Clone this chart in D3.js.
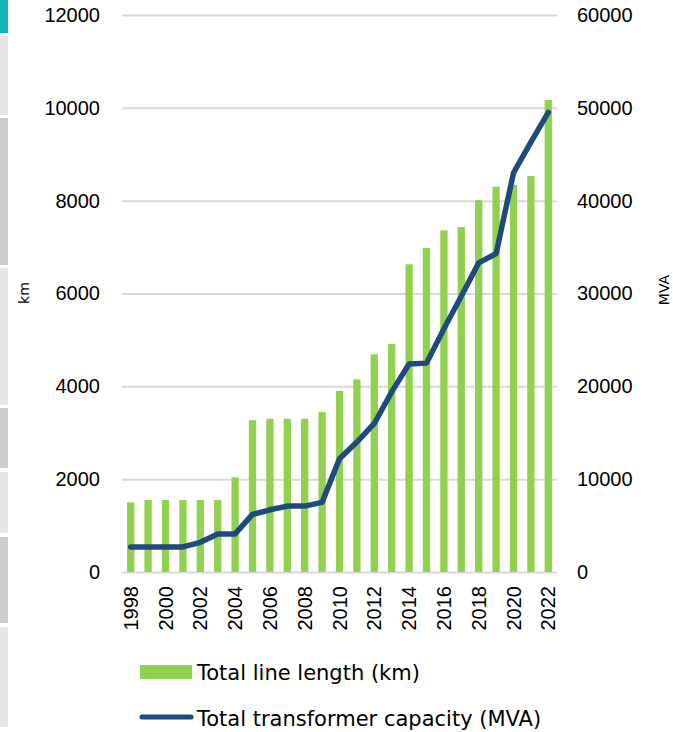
<!DOCTYPE html>
<html>
<head>
<meta charset="utf-8">
<script src="https://cdn.jsdelivr.net/npm/d3@7"></script>
<style>
  html, body { margin: 0; padding: 0; background: #fff; }
  svg { display: block; }
</style>
</head>
<body>
<script>
// Data
var years = ["1998", "1999", "2000", "2001", "2002", "2003", "2004", "2005", "2006",
  "2007", "2008", "2009", "2010", "2011", "2012", "2013", "2014", "2015", "2016",
  "2017", "2018", "2019", "2020", "2021", "2022"];
var lineLength = [1500, 1550, 1550, 1550, 1550, 1550, 2040, 3270, 3300, 3300, 3300, 3450,
  3900, 4150, 4690, 4910, 6630, 6980, 7360, 7430, 8010, 8300, 8340, 8530, 10170];
var capacity = [2700, 2700, 2700, 2700, 3200, 4100, 4100, 6200, 6700, 7100, 7100, 7500,
  12200, 14000, 16000, 19400, 22400, 22500, 26200, 29700, 33300, 34300, 43000, 46300, 49500];
var leftTicks = [0, 2000, 4000, 6000, 8000, 10000, 12000];
var rightTicks = [0, 10000, 20000, 30000, 40000, 50000, 60000];
var yearTicks = ["1998", "2000", "2002", "2004", "2006", "2008", "2010", "2012", "2014",
  "2016", "2018", "2020", "2022"];
var legendLabels = ["Total line length (km)", "Total transformer capacity (MVA)"];

/*
 * Bounds of component.
 */
var width = 673,
    height = 732,
    plotLeft = 122, plotRight = 557,
    plotTop = 15, plotBottom = 572;

var green = "#92d050",
    blue = "#1f4a7c",
    grid = "#d9d9d9",
    numFont = "'Liberation Sans', Arial, sans-serif",
    textFont = "'DejaVu Sans', Verdana, sans-serif";

var svg = d3.select("body").append("svg")
  .attr("width", width)
  .attr("height", height);

/*
 * Side strip on the left edge.
 */
var strip = [[0, 33, "#14b4b4"], [36, 115, "#e6e6e6"], [118, 265, "#cccccc"],
  [268, 405, "#e6e6e6"], [408, 468, "#cccccc"], [472, 533, "#e6e6e6"],
  [537, 623, "#cccccc"], [627, 727, "#e6e6e6"]];
svg.selectAll(".strip").data(strip).enter().append("rect")
  .attr("x", 0).attr("width", 8)
  .attr("y", function(d) { return d[0]; })
  .attr("height", function(d) { return d[1] - d[0]; })
  .attr("fill", function(d) { return d[2]; });

/*
 * Scales.
 */
var x = d3.scaleBand()
  .domain(years)
  .range([plotLeft, plotRight])
  .paddingInner(0.58)
  .paddingOuter(0.29);

var yL = d3.scaleLinear().domain([0, 12000]).range([plotBottom, plotTop]);
var yR = d3.scaleLinear().domain([0, 60000]).range([plotBottom, plotTop]);
var fmt = d3.format("d");

/*
 * Left axis with gridlines.
 */
var gL = svg.append("g")
  .attr("transform", "translate(" + plotLeft + ",0)")
  .call(d3.axisLeft(yL).tickValues(leftTicks).tickFormat(fmt)
    .tickSize(-(plotRight - plotLeft)).tickPadding(22));
gL.select(".domain").remove();
gL.selectAll("line").attr("stroke", grid).attr("stroke-width", 2);
gL.selectAll("text")
  .attr("font-family", numFont).attr("font-size", 20).attr("fill", "#000");

/*
 * Right axis.
 */
var gR = svg.append("g")
  .attr("transform", "translate(" + plotRight + ",0)")
  .call(d3.axisRight(yR).tickValues(rightTicks).tickFormat(fmt).tickSize(0).tickPadding(20));
gR.select(".domain").remove();
gR.selectAll("text")
  .attr("font-family", numFont).attr("font-size", 20).attr("fill", "#000");

/*
 * Bars.
 */
svg.selectAll(".bar")
  .data(years)
  .enter().append("rect")
  .attr("class", "bar")
  .attr("x", function(d) { return x(d); })
  .attr("width", x.bandwidth())
  .attr("y", function(d, i) { return yL(lineLength[i]); })
  .attr("height", function(d, i) { return plotBottom - yL(lineLength[i]); })
  .attr("fill", green);

/*
 * Bottom axis, rotated year labels.
 */
var gB = svg.append("g")
  .attr("transform", "translate(0," + plotBottom + ")")
  .call(d3.axisBottom(x).tickValues(yearTicks).tickSize(0).tickPadding(14));
gB.select(".domain").remove();
gB.selectAll("text")
  .attr("font-family", numFont).attr("font-size", 20).attr("fill", "#000")
  .attr("transform", "rotate(-90)")
  .attr("text-anchor", "end")
  .attr("x", -14).attr("y", 0).attr("dy", "0.35em");

/*
 * Capacity line.
 */
var line = d3.line()
  .x(function(d, i) { return x(years[i]) + x.bandwidth() / 2; })
  .y(function(d) { return yR(d); });

svg.append("path")
  .datum(capacity)
  .attr("d", line)
  .attr("fill", "none")
  .attr("stroke", blue)
  .attr("stroke-width", 5.5)
  .attr("stroke-linejoin", "round")
  .attr("stroke-linecap", "round");

/*
 * Axis titles.
 */
svg.append("text")
  .attr("transform", "translate(29,293) rotate(-90)")
  .attr("text-anchor", "middle")
  .attr("font-family", textFont).attr("font-size", 14)
  .text("km");
svg.append("text")
  .attr("transform", "translate(669,290) rotate(-90)")
  .attr("text-anchor", "middle")
  .attr("font-family", textFont).attr("font-size", 14)
  .text("MVA");

/*
 * Legend.
 */
var legend = svg.append("g").attr("font-family", textFont).attr("font-size", 21);
legend.append("rect")
  .attr("x", 140).attr("y", 665).attr("width", 52).attr("height", 14)
  .attr("fill", green);
legend.append("text").attr("x", 197).attr("y", 680).text(legendLabels[0]);
legend.append("line")
  .attr("x1", 142).attr("x2", 191).attr("y1", 717).attr("y2", 717)
  .attr("stroke", blue).attr("stroke-width", 5).attr("stroke-linecap", "round");
legend.append("text").attr("x", 197).attr("y", 726).text(legendLabels[1]);
</script>
</body>
</html>
